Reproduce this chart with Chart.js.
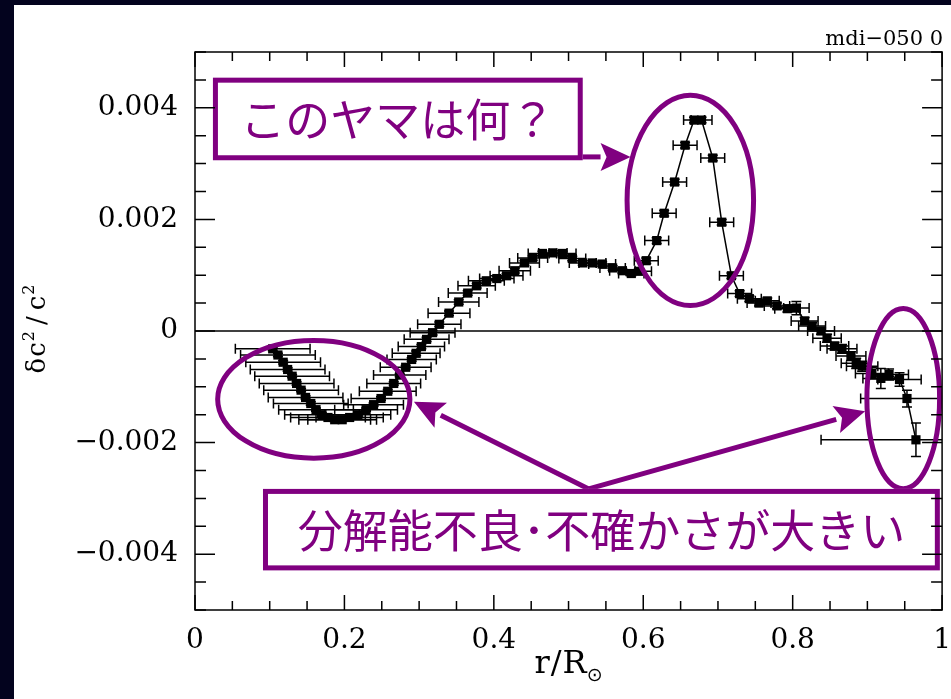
<!DOCTYPE html>
<html>
<head>
<meta charset="utf-8">
<script src="https://cdn.jsdelivr.net/npm/chart.js@4.4.1/dist/chart.umd.min.js"></script>
<style>
  html, body { margin: 0; padding: 0; background: #03031e; }
  body { width: 951px; height: 699px; position: relative; overflow: hidden; }
  #wrap { position: absolute; left: 14px; top: 5px; width: 937px; height: 694px; background: #fff; }
</style>
</head>
<body>
<div id="wrap"><canvas id="sunChart" width="937" height="694"></canvas></div>
<script>
// r / R_sun
const radius = [
  0.104, 0.111, 0.118, 0.124, 0.130, 0.136, 0.142, 0.148, 0.155, 0.162, 0.170, 0.178, 0.187, 0.197,
  0.207, 0.218, 0.229, 0.239, 0.249, 0.258, 0.266, 0.274, 0.282, 0.290,
  0.296, 0.303, 0.310, 0.318, 0.327, 0.340, 0.353, 0.365, 0.377, 0.390, 0.404, 0.417, 0.428, 0.441,
  0.452, 0.465, 0.479, 0.492, 0.505, 0.519, 0.532, 0.545, 0.559, 0.572, 0.584, 0.594,
  0.604, 0.618, 0.628, 0.642, 0.656, 0.668, 0.678, 0.693, 0.705, 0.718,
  0.729, 0.742, 0.755, 0.766, 0.779, 0.793, 0.805, 0.816, 0.826, 0.838, 0.846, 0.856, 0.866, 0.878,
  0.885, 0.893, 0.906, 0.918, 0.929, 0.943, 0.953, 0.965
];
// delta c^2 / c^2
const dc2 = [
  -0.00032, -0.00043, -0.00056, -0.00069, -0.00081, -0.00094, -0.00106, -0.00119, -0.00130, -0.00141, -0.00150, -0.00155, -0.00159, -0.00159,
  -0.00155, -0.00150, -0.00141, -0.00132, -0.00121, -0.00108, -0.00094, -0.00079, -0.00065, -0.00051,
  -0.00040, -0.00028, -0.00015, -0.00003, 0.00012, 0.00032, 0.00052, 0.00068, 0.00081, 0.00090, 0.00094, 0.00099, 0.00108, 0.00122,
  0.00131, 0.00139, 0.00140, 0.00139, 0.00130, 0.00122, 0.00122, 0.00120, 0.00113, 0.00108, 0.00103, 0.00107,
  0.00126, 0.00162, 0.00211, 0.00267, 0.00333, 0.00378, 0.00378, 0.00310, 0.00195, 0.00099,
  0.00067, 0.00058, 0.00050, 0.00054, 0.00045, 0.00040, 0.00041, 0.00018, 0.00009, 0.00000, -0.00013, -0.00027, -0.00032, -0.00045,
  -0.00058, -0.00063, -0.00076, -0.00085, -0.00078, -0.00087, -0.00121, -0.00195
];
// horizontal error (resolution width)
const radiusErr = [
  0.050, 0.050, 0.050, 0.050, 0.050, 0.050, 0.050, 0.050, 0.050, 0.050, 0.050, 0.050, 0.048, 0.046,
  0.045, 0.044, 0.042, 0.040, 0.040, 0.038, 0.036, 0.035, 0.034, 0.033,
  0.032, 0.031, 0.030, 0.030, 0.029, 0.028, 0.027, 0.026, 0.025, 0.024, 0.023, 0.022, 0.021, 0.020,
  0.020, 0.019, 0.019, 0.018, 0.018, 0.018, 0.018, 0.018, 0.017, 0.017, 0.017, 0.017,
  0.016, 0.016, 0.016, 0.016, 0.016, 0.014, 0.014, 0.016, 0.016, 0.016,
  0.016, 0.016, 0.016, 0.016, 0.017, 0.017, 0.017, 0.018, 0.018, 0.018, 0.019, 0.019, 0.020, 0.020,
  0.020, 0.021, 0.022, 0.024, 0.026, 0.029, 0.062, 0.127
];
// vertical error
const dc2Err = [
  0.00003, 0.00003, 0.00003, 0.00003, 0.00003, 0.00003, 0.00003, 0.00003, 0.00003, 0.00003, 0.00003, 0.00003, 0.00003, 0.00003,
  0.00003, 0.00003, 0.00003, 0.00003, 0.00003, 0.00003, 0.00003, 0.00003, 0.00003, 0.00003,
  0.00004, 0.00004, 0.00004, 0.00004, 0.00004, 0.00004, 0.00004, 0.00004, 0.00004, 0.00004, 0.00004, 0.00004, 0.00004, 0.00004,
  0.00004, 0.00004, 0.00004, 0.00004, 0.00004, 0.00004, 0.00004, 0.00004, 0.00004, 0.00004, 0.00004, 0.00004,
  0.00005, 0.00005, 0.00005, 0.00005, 0.00005, 0.00005, 0.00005, 0.00005, 0.00005, 0.00005,
  0.00005, 0.00005, 0.00005, 0.00005, 0.00005, 0.00006, 0.00012, 0.00006, 0.00006, 0.00006, 0.00007, 0.00007, 0.00008, 0.00008,
  0.00009, 0.00009, 0.00010, 0.00018, 0.00010, 0.00012, 0.00015, 0.00030
];

const xTickValues = [0, 0.2, 0.4, 0.6, 0.8, 1];
const xTickLabels = ['0', '0.2', '0.4', '0.6', '0.8', '1'];
const yTickValues = [-0.004, -0.002, 0, 0.002, 0.004];
const yTickLabels = ['\u22120.004', '\u22120.002', '0', '0.002', '0.004'];
const xMinorStep = 0.05;
const yMinorStep = 0.0005;

// annotations, in data units
const notes = [
  { x0: 0.024, x1: 0.519, y0: 0.00454, y1: 0.00306, text: 'このヤマは何？' },
  { x0: 0.091, x1: 0.997, y0: -0.00283, y1: -0.00429, text: '分解能不良･不確かさが大きい' }
];
const rings = [
  { cx: 0.663, cy: 0.00234, rx: 0.088, ry: 0.00193 },
  { cx: 0.159, cy: -0.001225, rx: 0.132, ry: 0.0011 },
  { cx: 0.948, cy: -0.00121, rx: 0.052, ry: 0.00166 }
];
const pointers = [
  { from: [0.517, 0.00312], to: [0.583, 0.00312] },
  { from: [0.527, -0.00283], to: [0.293, -0.00127] },
  { from: [0.527, -0.00283], to: [0.897, -0.00144] }
];

const purple = '#800080';

function arrow(ctx, x0, y0, x1, y1) {
  const ang = Math.atan2(y1 - y0, x1 - x0);
  const hl = 30, hw = 14;
  const bx = x1 - hl * Math.cos(ang), by = y1 - hl * Math.sin(ang);
  ctx.beginPath();
  ctx.moveTo(x0, y0);
  ctx.lineTo(bx, by);
  ctx.stroke();
  ctx.beginPath();
  ctx.moveTo(x1, y1);
  ctx.lineTo(bx + hw * Math.sin(ang), by - hw * Math.cos(ang));
  ctx.lineTo(bx + 6 * Math.cos(ang), by + 6 * Math.sin(ang));
  ctx.lineTo(bx - hw * Math.sin(ang), by + hw * Math.cos(ang));
  ctx.closePath();
  ctx.fill();
}

// draws pieces [text, font, dy, gapAfter] along a baseline, centred on cx
function drawPieces(ctx, pieces, cx, cy) {
  let w = 0;
  pieces.forEach(p => { ctx.font = p[1]; w += ctx.measureText(p[0]).width + p[3]; });
  let x = cx - w / 2;
  ctx.textAlign = 'left';
  ctx.textBaseline = 'alphabetic';
  pieces.forEach(p => {
    ctx.font = p[1];
    ctx.fillText(p[0], x, cy + p[2]);
    x += ctx.measureText(p[0]).width + p[3];
  });
}

const extras = {
  id: 'extras',
  beforeDatasetsDraw(chart) {
    const { ctx, chartArea: a, scales: { x, y } } = chart;
    ctx.save();
    ctx.strokeStyle = '#000';
    ctx.lineWidth = 1.5;
    const y0 = y.getPixelForValue(0);
    ctx.beginPath();
    ctx.moveTo(a.left, y0);
    ctx.lineTo(a.right, y0);
    ctx.stroke();

    ctx.beginPath();
    ctx.rect(a.left, a.top, a.right - a.left, a.bottom - a.top);
    ctx.clip();
    ctx.lineWidth = 1.5;
    for (let i = 0; i < radius.length; i++) {
      const px = x.getPixelForValue(radius[i]);
      const py = y.getPixelForValue(dc2[i]);
      const xl = x.getPixelForValue(radius[i] - radiusErr[i]);
      const xr = x.getPixelForValue(radius[i] + radiusErr[i]);
      const yt = y.getPixelForValue(dc2[i] + dc2Err[i]);
      const yb = y.getPixelForValue(dc2[i] - dc2Err[i]);
      ctx.beginPath();
      ctx.moveTo(xl, py); ctx.lineTo(xr, py);
      ctx.moveTo(xl, py - 5); ctx.lineTo(xl, py + 5);
      ctx.moveTo(xr, py - 5); ctx.lineTo(xr, py + 5);
      ctx.moveTo(px, yt); ctx.lineTo(px, yb);
      ctx.moveTo(px - 5, yt); ctx.lineTo(px + 5, yt);
      ctx.moveTo(px - 5, yb); ctx.lineTo(px + 5, yb);
      ctx.stroke();
    }
    ctx.restore();
  },
  afterDraw(chart) {
    const { ctx, chartArea: a, scales: { x, y } } = chart;
    ctx.save();

    // purple annotations
    ctx.strokeStyle = purple;
    ctx.fillStyle = purple;
    ctx.lineWidth = 5;
    rings.forEach(r => {
      const cx = x.getPixelForValue(r.cx), cy = y.getPixelForValue(r.cy);
      const rx = x.getPixelForValue(r.cx + r.rx) - cx;
      const ry = cy - y.getPixelForValue(r.cy + r.ry);
      ctx.beginPath();
      ctx.ellipse(cx, cy, rx - 2.5, ry - 2.5, 0, 0, Math.PI * 2);
      ctx.stroke();
    });
    pointers.forEach(p => {
      arrow(ctx, x.getPixelForValue(p.from[0]), y.getPixelForValue(p.from[1]),
        x.getPixelForValue(p.to[0]), y.getPixelForValue(p.to[1]));
    });
    notes.forEach(n => {
      const l = x.getPixelForValue(n.x0), r = x.getPixelForValue(n.x1);
      const t = y.getPixelForValue(n.y0), b = y.getPixelForValue(n.y1);
      ctx.fillStyle = '#fff';
      ctx.fillRect(l, t, r - l, b - t);
      ctx.strokeRect(l + 2.5, t + 2.5, r - l - 5, b - t - 5);
      ctx.fillStyle = purple;
      ctx.font = '45px "Noto Sans CJK JP"';
      ctx.textAlign = 'center';
      ctx.textBaseline = 'middle';
      ctx.fillText(n.text, (l + r) / 2, (t + b) / 2 + 1);
    });

    // frame and inward ticks
    ctx.strokeStyle = '#000';
    ctx.lineWidth = 1.5;
    ctx.strokeRect(a.left, a.top, a.right - a.left, a.bottom - a.top);
    ctx.beginPath();
    const nx = Math.round((x.max - x.min) / xMinorStep);
    for (let i = 0; i <= nx; i++) {
      const px = x.getPixelForValue(x.min + i * xMinorStep);
      const len = i % 4 === 0 ? 15 : 9;
      ctx.moveTo(px, a.bottom); ctx.lineTo(px, a.bottom - len);
      ctx.moveTo(px, a.top); ctx.lineTo(px, a.top + len);
    }
    const ny = Math.round((y.max - y.min) / yMinorStep);
    for (let i = 0; i <= ny; i++) {
      const v = y.min + i * yMinorStep;
      const py = y.getPixelForValue(v);
      const len = Math.abs(Math.round(v / yMinorStep)) % 4 === 0 ? 20 : 11;
      ctx.moveTo(a.left, py); ctx.lineTo(a.left + len, py);
      ctx.moveTo(a.right, py); ctx.lineTo(a.right - len, py);
    }
    ctx.stroke();

    // texts
    ctx.fillStyle = '#000';
    ctx.font = '21px "DejaVu Serif"';
    ctx.textAlign = 'right';
    ctx.textBaseline = 'alphabetic';
    ctx.fillText('mdi\u2212050 0', a.right + 1, 40);

    drawPieces(ctx, [
      ['r', '32px "DejaVu Serif"', 0, 1],
      ['/', '32px "DejaVu Serif"', 0, 1],
      ['R', '32px "DejaVu Serif"', 0, 0],
      ['\u2299', '19px "DejaVu Sans"', 8, 0]
    ], (a.left + a.right) / 2, 668);

    ctx.save();
    ctx.translate(31, y.getPixelForValue(0) - 2);
    ctx.rotate(-Math.PI / 2);
    drawPieces(ctx, [
      ['\u03b4', '26px "DejaVu Serif"', 0, 1],
      ['c', '26px "DejaVu Serif"', 0, 1],
      ['2', '16px "DejaVu Serif"', -11, 6],
      ['/', '26px "DejaVu Serif"', 0, 6],
      ['c', '26px "DejaVu Serif"', 0, 1],
      ['2', '16px "DejaVu Serif"', -11, 0]
    ], 0, 0);
    ctx.restore();

    ctx.restore();
  }
};

const tickFont = { family: 'DejaVu Serif', size: 28 };

new Chart(document.getElementById('sunChart'), {
  type: 'scatter',
  data: {
    datasets: [{
      data: radius.map((r, i) => ({ x: r, y: dc2[i] })),
      showLine: true,
      borderColor: '#000',
      borderWidth: 1.5,
      pointStyle: 'rect',
      pointRadius: 6.5,
      pointBackgroundColor: '#000',
      pointBorderColor: '#000',
      pointBorderWidth: 0,
      tension: 0
    }]
  },
  options: {
    responsive: false,
    animation: false,
    devicePixelRatio: 1,
    layout: { padding: { top: 47, right: 8, left: 0, bottom: 0 } },
    plugins: { legend: { display: false }, tooltip: { enabled: false } },
    scales: {
      x: {
        type: 'linear', min: 0, max: 1,
        grid: { display: false, drawTicks: true, tickLength: 14 },
        border: { display: false },
        afterBuildTicks: s => { s.ticks = xTickValues.map(v => ({ value: v })); },
        afterFit: s => { s.height = 89; },
        ticks: {
          padding: 0, color: '#000', font: tickFont, maxRotation: 0, autoSkip: false,
          callback: (v, i) => xTickLabels[i]
        }
      },
      y: {
        type: 'linear', min: -0.005, max: 0.005,
        grid: { display: false, drawTicks: true, tickLength: 17 },
        border: { display: false },
        afterBuildTicks: s => { s.ticks = yTickValues.map(v => ({ value: v })); },
        afterFit: s => { s.width = 181; },
        ticks: {
          padding: 0, color: '#000', font: tickFont, autoSkip: false,
          callback: (v, i) => yTickLabels[i]
        }
      }
    }
  },
  plugins: [extras]
});
</script>
</body>
</html>
